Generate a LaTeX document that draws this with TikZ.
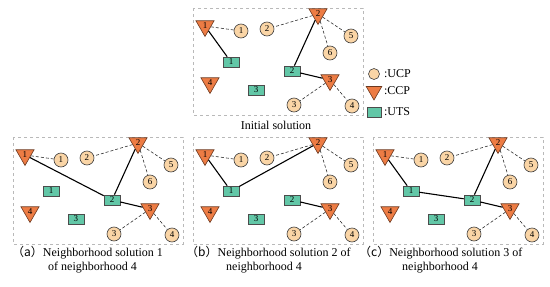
\documentclass[tikz,border=0pt]{standalone}
\usepackage{fontspec}
\setmainfont{Liberation Serif}
\newfontfamily\cjk{Noto Sans CJK SC}
\usepackage{tikz}
\usetikzlibrary{shapes.geometric,positioning}
\definecolor{cucp}{RGB}{250,213,166}
\definecolor{cccp}{RGB}{237,124,68}
\definecolor{cuts}{RGB}{98,199,167}
\definecolor{cframe}{RGB}{185,185,185}
\tikzset{
  ucp/.style={circle, draw=black!75, fill=cucp, line width=0.6pt,
    minimum size=14pt, inner sep=0pt, font=\fontsize{9}{9}\selectfont},
  ccp/.style={regular polygon, regular polygon sides=3, shape border rotate=180,
    draw=black!55!cccp, fill=cccp, line width=0.6pt,
    minimum size=21pt, inner sep=0pt, font=\fontsize{9}{9}\selectfont},
  uts/.style={rectangle, draw=black!70, fill=cuts, line width=0.6pt,
    minimum width=16pt, minimum height=10pt, inner sep=0pt,
    font=\fontsize{9}{9}\selectfont},
  panelbox/.style={draw=cframe, dashed, line width=0.6pt},
  assign/.style={densely dashed, line width=0.6pt, black!80},
  route/.style={line width=1.1pt, black},
  captext/.style={font=\fontsize{12}{14}\selectfont, inner sep=1pt}
}
% one solution panel: prefix, left, top
\newcommand\solnodes[3]{%
  \begin{scope}[shift={(#2,#3)}]
    \draw[panelbox] (0,0) rectangle (170,107);
    \foreach \n/\x/\y in {1/48/23, 2/74/21, 3/101/97, 4/159/98, 5/158/28, 6/137/45}
      \node[ucp] (#1u\n) at (\x,\y) {\n};
    \foreach \n/\x/\y in {1/12/18, 2/125/6, 3/137/72, 4/17/75}
      \node[ccp] (#1c\n) at (\x,\y) {\n};
    \foreach \n/\x/\y in {1/38/54, 2/99/63, 3/63/82}
      \node[uts] (#1t\n) at (\x,\y) {\n};
    \draw[assign] (#1c1) -- (#1u1);
    \foreach \u in {2,5,6}
      \draw[assign] (#1c2) -- (#1u\u);
    \foreach \u in {3,4}
      \draw[assign] (#1c3) -- (#1u\u);
  \end{scope}}

\begin{document}
\begin{tikzpicture}[x=1pt, y=-1pt]
  \useasboundingbox (0,0) rectangle (550,287);

  % initial solution
  \solnodes{i}{193}{8}
  \draw[route] (ic1) -- (it1);
  \draw[route] (ic2) -- (it2) -- (ic3);
  \node[captext] (capi) at (276,125) {Initial solution};

  % legend
  \node[ucp, minimum size=11pt] (lu) at (374,74) {};
  \node[ccp, minimum size=18pt] (lc) at (374,91) {};
  \node[uts, minimum width=14pt] (lt) at (374,112) {};
  \node[captext, right=3pt of lu] (lutxt) {:UCP};
  \node[captext, anchor=west] (lctxt) at (lutxt.west |- lc) {:CCP};
  \node[captext, anchor=west] (lttxt) at (lutxt.west |- lt) {:UTS};

  % neighborhood solutions
  \solnodes{a}{13}{137}
  \draw[route] (ac1) -- (at2) -- (ac2);
  \draw[route] (at2) -- (ac3);

  \solnodes{b}{193}{137}
  \draw[route] (bc1) -- (bt1) -- (bc2);
  \draw[route] (bt2) -- (bc3);

  \solnodes{c}{373}{137}
  \draw[route] (cc1) -- (ct1) -- (ct2) -- (cc3);
  \draw[route] (ct2) -- (cc2);

  % captions
  \node[captext, anchor=west] (capa) at (11,253) {{\cjk （a）}Neighborhood solution 1};
  \node[captext, anchor=west] (capa2) at (47,268) {of neighborhood 4};
  \node[captext, anchor=west] (capb) at (185,253) {{\cjk （b）}Neighborhood solution 2 of};
  \node[captext] (capb2) at (264,268) {neighborhood 4};
  \node[captext, anchor=west] (capc) at (358,253) {{\cjk （c）}Neighborhood solution 3 of};
  \node[captext] (capc2) at (440,268) {neighborhood 4};
\end{tikzpicture}
\end{document}
